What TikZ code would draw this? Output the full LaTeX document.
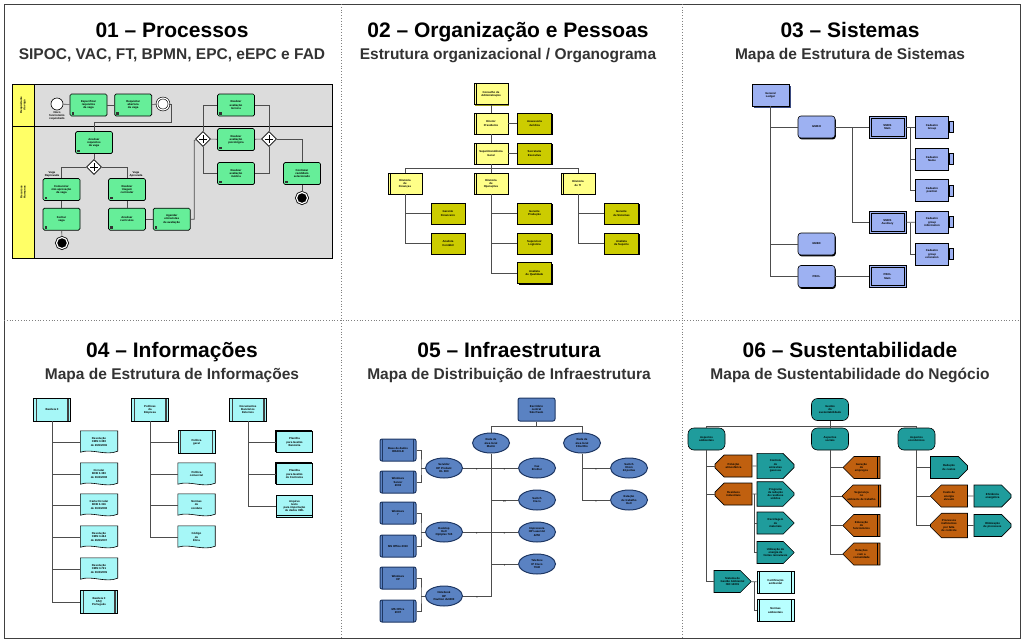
\documentclass[tikz,border=0pt]{standalone}
\usepackage{fontspec}
\setmainfont{Liberation Sans}
\usepackage{xcolor}
\definecolor{cFrame}{HTML}{404040}
\definecolor{cDots}{HTML}{808080}
\definecolor{cSub}{HTML}{333333}
\definecolor{cLine}{HTML}{4D4D4D}
\definecolor{cPool}{HTML}{DCDCDC}
\definecolor{cLane}{HTML}{FFFF66}
\definecolor{cTask}{HTML}{66EE99}
\definecolor{cOrgU}{HTML}{FFFF88}
\definecolor{cOrgD}{HTML}{99991A}
\definecolor{cOrgP}{HTML}{CCCC00}
\definecolor{cSys}{HTML}{9DB1F2}
\definecolor{cSysD}{HTML}{3A4A80}
\definecolor{cInfo}{HTML}{A6F7F7}
\definecolor{cInfra}{HTML}{5A82C2}
\definecolor{cNavy}{HTML}{1F3864}
\definecolor{cTeal}{HTML}{1F9C9C}
\definecolor{cRust}{HTML}{C0600F}
\definecolor{cIce}{HTML}{B8FFFF}
\usepackage{tikz}
\usetikzlibrary{positioning,shapes.geometric,shapes.misc,shadows,backgrounds,calc}
\tikzset{
  panel-title/.style={font=\fontsize{21}{24}\selectfont\bfseries,anchor=base},
  panel-sub/.style={font=\fontsize{15.5}{18}\selectfont\bfseries,text=cSub,anchor=base},
  tiny-text/.style={font=\fontsize{2.8}{3.2}\selectfont\bfseries,align=center,inner sep=0.5pt},
  link/.style={draw=cLine,line width=0.6},
  mult/.style={font=\fontsize{2.5}{3}\selectfont,inner sep=0.6pt},
  % 01 BPMN
  node-task/.style={tiny-text,draw=black,line width=0.7,rounded corners=1.5,fill=cTask,
    minimum width=37,minimum height=22,
    path picture={\fill[black!80,sharp corners] ([shift={(1.5pt,1.5pt)}]path picture bounding box.south west) rectangle ++(2.5pt,2.5pt);}},
  node-gate/.style={diamond,draw=black,fill=white,line width=0.6,minimum size=15,inner sep=0,
    path picture={\draw[line width=0.8] (path picture bounding box.center) +(-4pt,0pt) -- +(4pt,0pt) +(0pt,-4pt) -- +(0pt,4pt);}},
  node-start/.style={circle,draw=black,fill=white,line width=0.6,minimum size=12,inner sep=0},
  node-inter/.style={node-start,double,double distance=1.2},
  node-end/.style={circle,draw=black,fill=black,line width=0.8,minimum size=11,inner sep=0,double=white,double distance=1.2},
  % 02 organograma
  node-unit/.style={tiny-text,draw=black,fill=cOrgU,line width=0.5,minimum width=34,minimum height=21,
    drop shadow={shadow xshift=1pt,shadow yshift=-1.2pt,fill=cOrgD,opacity=1},
    path picture={\draw[line width=0.5] ([xshift=2.5pt]path picture bounding box.south west) -- ([xshift=2.5pt]path picture bounding box.north west);}},
  node-post/.style={tiny-text,draw=black,fill=cOrgP,line width=0.7,minimum width=34,minimum height=21,
    drop shadow={shadow xshift=1.2pt,shadow yshift=-1.2pt,fill=black,opacity=1}},
  % 03 sistemas
  node-sys/.style={tiny-text,draw=black,fill=cSys,line width=0.6,minimum width=37,minimum height=22},
  node-sysroot/.style={node-sys,drop shadow={shadow xshift=1.5pt,shadow yshift=-1.5pt,fill=cSysD,opacity=1}},
  node-mod/.style={node-sys,rounded corners=3,drop shadow={shadow xshift=0.8pt,shadow yshift=-1.4pt,fill=black,opacity=1}},
  node-app/.style={node-sys,line width=0.8,
    path picture={\draw[line width=0.5] ([shift={(1.8pt,1.8pt)}]path picture bounding box.south west) rectangle ([shift={(-1.8pt,-1.8pt)}]path picture bounding box.north east);}},
  node-fn/.style={node-sys,minimum width=33},
  % 04 informações
  node-info/.style={tiny-text,draw=black,fill=cInfo,line width=0.6,minimum width=37,minimum height=23,
    path picture={\fill[black!75] ([xshift=2pt]path picture bounding box.south west) rectangle ([xshift=3.2pt]path picture bounding box.north west);
      \fill[black!75] ([xshift=-2pt]path picture bounding box.south east) rectangle ([xshift=-3.2pt]path picture bounding box.north east);}},
  node-doc/.style={tiny-text,minimum width=37,minimum height=22},
  node-file/.style={tiny-text,draw=black,fill=cInfo,line width=0.6,minimum width=36,minimum height=21,
    copy shadow={shadow xshift=-1.5pt,shadow yshift=1.5pt,draw=black,fill=cInfo}},
  node-xml/.style={tiny-text,draw=black,fill=cInfo,line width=0.6,minimum width=36,minimum height=22,
    path picture={\draw[line width=0.5] ([yshift=2pt]path picture bounding box.south west) -- ([yshift=2pt]path picture bounding box.south east);}},
  % 05 infraestrutura
  node-loc/.style={tiny-text,draw=cNavy,fill=cInfra,line width=1,rounded corners=2,minimum width=37,minimum height=23},
  node-net/.style={tiny-text,ellipse,draw=cNavy,fill=cInfra,line width=1,minimum width=37,minimum height=20,inner sep=0},
  node-hw/.style={node-loc,minimum width=36,minimum height=22,
    path picture={\draw[cNavy,line width=0.6] ([xshift=2.5pt]path picture bounding box.south west) -- ([xshift=2.5pt]path picture bounding box.north west)
      ([xshift=-2.5pt]path picture bounding box.south east) -- ([xshift=-2.5pt]path picture bounding box.north east);}},
  % 06 sustentabilidade
  node-goal/.style={tiny-text,draw=black,fill=cTeal,line width=0.6,rounded corners=6,minimum width=37,minimum height=22},
  node-risk/.style={tiny-text,chamfered rectangle,chamfered rectangle corners={north west,south west},
    chamfered rectangle xsep=5pt,chamfered rectangle ysep=6pt,draw=black,fill=cRust,line width=0.6,minimum width=37,minimum height=22},
  node-risk2/.style={node-risk,
    path picture={\draw[line width=0.6] ([xshift=-2.5pt]path picture bounding box.north east) -- ([xshift=-2.5pt]path picture bounding box.south east);}},
  node-act/.style={tiny-text,chamfered rectangle,chamfered rectangle corners={north east,south east},
    chamfered rectangle xsep=5pt,chamfered rectangle ysep=6pt,draw=black,fill=cTeal,line width=0.6,minimum width=37,minimum height=22},
  node-norm/.style={tiny-text,draw=black,fill=cIce,line width=0.6,minimum width=37,minimum height=22,
    path picture={\draw[line width=0.6] ([xshift=2.5pt]path picture bounding box.south west) -- ([xshift=2.5pt]path picture bounding box.north west)
      ([xshift=-2.5pt]path picture bounding box.south east) -- ([xshift=-2.5pt]path picture bounding box.north east);}},
}

\begin{document}
\begin{tikzpicture}[x=1pt,y=-1pt]
  \useasboundingbox (0,0) rectangle (1024,643);
  \begin{scope}[on background layer]
    \fill[white] (0,0) rectangle (1024,643);
  \end{scope}
  \draw[cFrame,line width=1] (4,4) rectangle (1020,638);
  \draw[cDots,dotted,line width=0.8] (341,4) -- (341,638) (682,4) -- (682,638) (4,320) -- (1020,320);

  % títulos
  \node[panel-title] (tit1) at (172,37) {01 – Processos};
  \node[panel-sub]   (sub1) at (172,59) {SIPOC, VAC, FT, BPMN, EPC, eEPC e FAD};
  \node[panel-title] (tit2) at (508,37) {02 – Organização e Pessoas};
  \node[panel-sub]   (sub2) at (508,59) {Estrutura organizacional / Organograma};
  \node[panel-title] (tit3) at (850,37) {03 – Sistemas};
  \node[panel-sub]   (sub3) at (850,59) {Mapa de Estrutura de Sistemas};
  \node[panel-title] (tit4) at (172,357) {04 – Informações};
  \node[panel-sub]   (sub4) at (172,379) {Mapa de Estrutura de Informações};
  \node[panel-title] (tit5) at (509,357) {05 – Infraestrutura};
  \node[panel-sub]   (sub5) at (509,379) {Mapa de Distribuição de Infraestrutura};
  \node[panel-title] (tit6) at (850,357) {06 – Sustentabilidade};
  \node[panel-sub]   (sub6) at (850,379) {Mapa de Sustentabilidade do Negócio};

  % 01 -- BPMN
  \draw[fill=cPool,line width=1] (12,84) rectangle (332,258);
  \draw[fill=cLane,line width=0.8] (12,84) rectangle (34,126);
  \draw[fill=cLane,line width=0.8] (12,126) rectangle (34,258);
  \draw[line width=1] (34,126) -- (332,126);
  \node[tiny-text,rotate=90] (ln1) at (23,105) {Requisitante\\da vaga};
  \node[tiny-text,rotate=90] (ln2) at (23,192) {Recursos\\Humanos};

  \node[node-start] (ev0) at (57,104) {};
  \node[tiny-text,below=0.5pt of ev0] (ev0l) {Novo\\funcionário\\requisitado};
  \node[node-task] (t1) at (88.5,105) {Especificar\\requisitos\\da vaga};
  \node[node-task,right=7pt of t1] (t2) {Requisitar\\abertura\\da vaga};
  \node[node-inter] (ev1) at (163,104) {};
  \node[node-task] (t3) at (94,142.5) {Analisar\\requisitos\\da vaga};
  \node[node-gate] (g1) at (94,167) {};
  \node[node-task] (t4) at (61.5,189.5) {Comunicar\\não aprovação\\da vaga};
  \node[node-task,below=7pt of t4] (t5) {Fechar\\vaga};
  \node[node-end] (ev2) at (62,243) {};
  \node[node-task] (t6) at (127,189.5) {Realizar\\triagem\\curricular};
  \node[node-task,below=7pt of t6] (t7) {Analisar\\currículos};
  \node[node-task,right=7pt of t7] (t8) {Agendar\\entrevistas\\de avaliação};
  \node[node-gate] (g2) at (203,139) {};
  \node[node-task] (p1) at (236,105) {Realizar\\avaliação\\técnica};
  \node[node-task] (p2) at (236,139.5) {Realizar\\avaliação\\psicológica};
  \node[node-task] (p3) at (236,173.5) {Realizar\\avaliação\\médica};
  \node[node-gate] (g3) at (269,139) {};
  \node[node-task] (t9) at (302,173.5) {Contratar\\candidato\\selecionado};
  \node[node-end] (ev3) at (302,198) {};
  \node[tiny-text] (lb1) at (52,174) {Vaga\\Reprovada};
  \node[tiny-text] (lb2) at (136,174) {Vaga\\Aprovada};

  \draw[link] (ev0) -- (t1);
  \draw[link] (t1) -- (t2);
  \draw[link] (t2) -- (ev1);
  \draw[link] (ev1) -- ++(8,0) |- (94,122) -- (t3);
  \draw[link] (t3) -- (g1);
  \draw[link] (g1) -| (t4);
  \draw[link] (g1) -| (t6);
  \draw[link] (t4) -- (t5);
  \draw[link] (t5) -- (ev2);
  \draw[link] (t6) -- (t7);
  \draw[link] (t7) -- (t8);
  \draw[link] (t8) -| ++(22.5,-79) -- (g2);
  \draw[link] (g2) |- (p1);
  \draw[link] (g2) -- (p2);
  \draw[link] (g2) |- (p3);
  \draw[link] (p1) -| (g3);
  \draw[link] (p2) -- (g3);
  \draw[link] (p3) -| (g3);
  \draw[link] (g3) -| (t9);
  \draw[link] (t9) -- (ev3);

  % 02 -- organograma
  \node[node-unit] (o1) at (491,94) {Conselho de\\Administração};
  \node[node-unit] (o2) at (491,123.5) {Diretor\\Presidente};
  \node[node-post] (q1) at (534.5,123.5) {Assessoria\\Jurídica};
  \node[node-unit] (o3) at (491,153.5) {Superintendência\\Geral};
  \node[node-post] (q2) at (534.5,153.5) {Secretaria\\Executiva};
  \node[node-unit] (o4) at (405,183.5) {Diretoria\\de\\Finanças};
  \node[node-unit] (o5) at (491,183.5) {Diretoria\\de\\Operações};
  \node[node-unit] (o6) at (578,183.5) {Diretoria\\de TI};
  \node[node-post] (q3) at (448,213.5) {Gerente\\Financeiro};
  \node[node-post] (q4) at (448,243.5) {Analista\\Contábil};
  \node[node-post] (q5) at (534.5,213.5) {Gerente\\Produção};
  \node[node-post] (q6) at (534.5,243.5) {Supervisor\\Logística};
  \node[node-post] (q7) at (534.5,273) {Analista\\de Qualidade};
  \node[node-post] (q8) at (621.5,213.5) {Gerente\\de Sistemas};
  \node[node-post] (q9) at (621.5,243.5) {Analista\\de Suporte};
  \coordinate (bus2) at (491,168);
  \draw[link] (o1) -- (o2);
  \draw[link] (o2) -- (o3);
  \draw[link] (o2) -- (q1);
  \draw[link] (o3) -- (q2);
  \draw[link] (o3) -- (bus2) -| (o4);
  \draw[link] (bus2) -| (o6);
  \draw[link] (bus2) -- (o5);
  \foreach \n in {q3,q4} \draw[link] (o4) |- (\n);
  \foreach \n in {q5,q6,q7} \draw[link] (o5) |- (\n);
  \foreach \n in {q8,q9} \draw[link] (o6) |- (\n);

  % 03 -- sistemas
  \node[node-sysroot] (r3) at (770.5,95) {General\\Ledger};
  \node[node-mod] (m1) at (816.5,127) {GMBH};
  \node[node-mod] (m2) at (816.5,244) {GMBX};
  \node[node-mod] (m3) at (816.5,276.5) {PBCL};
  \node[node-app] (a1) at (887.5,127) {SMDS\\Main};
  \node[node-app] (a2) at (887.5,222.5) {SMDS\\Auxiliary};
  \node[node-app] (a3) at (887.5,276.5) {PBCL\\Main};
  \node[node-fn] (f1) at (932,127) {Cadastro\\Group};
  \node[node-fn] (f2) at (932,159) {Cadastro\\Name};
  \node[node-fn] (f3) at (932,190.5) {Cadastro\\position};
  \node[node-fn] (f4) at (932,222) {Cadastro\\group\\information};
  \node[node-fn] (f5) at (932,254) {Cadastro\\group\\extension};
  \foreach \n in {f1,f2,f3,f4,f5}
    \draw[fill=cSys,line width=0.6] ([yshift=-6pt]\n.north east) rectangle ([xshift=4pt,yshift=6pt]\n.south east);
  \coordinate (j3a) at (852,127);
  \coordinate (j3b) at (910,127);
  \coordinate (j3c) at (910,222.5);
  \foreach \n in {m1,m2,m3} \draw[link] (r3) |- (\n);
  \draw[link] (m1) -- (a1);
  \draw[link] (j3a) |- (a2);
  \draw[link] (m3) -- (a3);
  \draw[link] (a1) -- (f1);
  \draw[link] (j3b) |- (f2);
  \draw[link] (j3b) |- (f3);
  \draw[link] (a2) -- (f4);
  \draw[link] (j3c) |- (f5);

  % 04 -- informações
  \node[node-info] (i1) at (52,409.5) {Basileia II};
  \node[node-info] (i2) at (150,409.5) {Políticas\\da\\Empresa};
  \node[node-info] (i3) at (248,409.5) {Documentos\\Bancários\\Externos};
  \node[node-doc] (d1) at (99,442) {Resolução\\CMN 3.380\\de 29/6/2006};
  \node[node-doc] (d2) at (99,474) {Circular\\BCB 3.383\\de 30/4/2008};
  \node[node-doc] (d3) at (99,505) {Carta Circular\\BCB 3.316\\de 30/4/2008};
  \node[node-doc] (d4) at (99,537) {Resolução\\CMN 3.464\\de 26/6/2007};
  \node[node-doc] (d5) at (99,569) {Resolução\\CMN 3.721\\de 30/4/2009};
  \node[node-info] (d6) at (99,602) {Basileia II\\FAQ\\Português};
  \node[node-info] (e1) at (196.5,442) {Política\\geral};
  \node[node-doc] (e2) at (196.5,474) {Política\\comercial};
  \node[node-doc] (e3) at (196.5,505) {Normas\\de\\conduta};
  \node[node-doc] (e4) at (196.5,537) {Código\\de\\Ética};
  \node[node-file] (x1) at (294.5,442) {Planilha\\para Gestão\\Bancária};
  \node[node-file] (x2) at (294.5,474) {Planilha\\para Gestão\\de Contratos};
  \node[node-xml] (x3) at (294.5,506) {Arquivo\\texto\\para importação\\de dados XML};
  \begin{scope}[on background layer]
    \foreach \n in {d1,d2,d3,d4,d5,e2,e3,e4}
      \draw[fill=cInfo,line width=0.6] (\n.north west) -- (\n.north east) -- ([yshift=2pt]\n.south east)
        .. controls ([xshift=-12pt,yshift=-3pt]\n.south east) and ([xshift=12pt,yshift=5pt]\n.south west) .. ([yshift=1pt]\n.south west) -- cycle;
  \end{scope}
  \foreach \n in {d1,d2,d3,d4,d5,d6} \draw[link] (i1) |- (\n);
  \foreach \n in {e1,e2,e3,e4} \draw[link] (i2) |- (\n);
  \foreach \n in {x1,x2,x3} \draw[link] (i3) |- (\n);

  % 05 -- infraestrutura
  \node[node-loc] (w0) at (536.5,409.5) {Escritório\\central\\São Paulo};
  \node[node-net] (n1) at (491,443) {Rede de\\área local\\Matriz};
  \node[node-net] (n2) at (582,443) {Rede de\\área local\\Filial Rio};
  \node[node-net] (n3) at (444,468) {Servidor\\HP Proliant\\DL 380};
  \node[node-net] (n4) at (444,532) {Desktop\\Dell\\Optiplex 745};
  \node[node-net] (n5) at (444,596) {Notebook\\HP\\Pavilion dv6000};
  \node[node-net] (n6) at (537,468) {Fax\\Brother};
  \node[node-net] (n7) at (537,500) {Switch\\Cisco};
  \node[node-net] (n8) at (537,532) {Impressora\\HP LaserJet\\4250};
  \node[node-net] (n9) at (537,564) {Telefone\\IP Cisco\\7940};
  \node[node-net] (n10) at (629,468) {Switch\\3Com\\24 portas};
  \node[node-net] (n11) at (629,500) {Estação\\de trabalho\\Dell};
  \node[node-hw] (w1) at (398,450) {Base de dados\\ORACLE};
  \node[node-hw] (w2) at (398,482) {Windows\\Server\\2003};
  \node[node-hw] (w3) at (398,513) {Windows\\7};
  \node[node-hw] (w4) at (398,546) {MS Office 2010};
  \node[node-hw] (w5) at (398,578) {Windows\\XP};
  \node[node-hw] (w6) at (398,611) {MS Office\\2007};
  \coordinate (bus5) at (536.5,426);
  \coordinate (br1) at (421,468);
  \coordinate (br2) at (421,532);
  \coordinate (br3) at (421,596);
  \draw[link] (w0) -- (bus5);
  \draw[link] (bus5) -| (n1);
  \draw[link] (bus5) -| (n2);
  \draw[link] (n3) -- (n6) node[mult,pos=0.25,below]{1} node[mult,pos=0.75,below]{1};
  \draw[link] (n4) -- (n8) node[mult,pos=0.25,below]{1} node[mult,pos=0.75,below]{1};
  \draw[link] (n1) |- (n5) node[mult,pos=0.75,below]{1};
  \draw[link] (n1) |- (n7) node[mult,pos=0.75,below]{20};
  \draw[link] (n1) |- (n9) node[mult,pos=0.75,below]{1};
  \draw[link] (n2) |- (n10) node[mult,pos=0.75,below]{1};
  \draw[link] (n2) |- (n11) node[mult,pos=0.75,below]{1};
  \draw[link] (w1) -| (br1) |- (w2);
  \draw[link] (w3) -| (br2) |- (w4);
  \draw[link] (w5) -| (br3) |- (w6);
  \draw[link] (br1) -- (n3);
  \draw[link] (br2) -- (n4);
  \draw[link] (br3) -- (n5);

  % 06 -- sustentabilidade
  \node[node-goal] (u0) at (830,409.5) {Gestão\\da\\sustentabilidade};
  \node[node-goal] (u1) at (706.5,439) {Aspectos\\ambientais};
  \node[node-goal] (u2) at (830,439) {Aspectos\\sociais};
  \node[node-goal] (u3) at (916.5,439) {Aspectos\\econômicos};
  \node[node-risk] (v1) at (733.5,466) {Poluição\\atmosférica};
  \node[node-act] (y1) at (775.5,466) {Controle\\de\\emissões\\gasosas};
  \node[node-risk] (v2) at (733.5,494) {Resíduos\\industriais};
  \node[node-act] (y2) at (775.5,494) {Programa\\de redução\\de resíduos\\sólidos};
  \node[node-act] (y3) at (775.5,523) {Reciclagem\\de\\materiais};
  \node[node-act] (y4) at (775.5,552.5) {Utilização de\\energia de\\fontes renováveis};
  \node[node-act] (y5) at (732.5,581.5) {Sistema de\\Gestão Ambiental\\ISO 14001};
  \node[node-norm] (z1) at (775.5,582) {Certificação\\ambiental};
  \node[node-norm] (z2) at (775.5,610.5) {Normas\\ambientais};
  \node[node-risk2] (v3) at (861.5,467.5) {Geração\\de\\empregos};
  \node[node-risk2] (v4) at (861.5,496) {Segurança\\no\\ambiente de trabalho};
  \node[node-risk2] (v5) at (861.5,525.5) {Educação\\de\\funcionários};
  \node[node-risk2] (v6) at (861.5,554) {Relações\\com a\\comunidade};
  \node[node-act] (y6) at (949,467.5) {Redução\\de custos};
  \node[node-risk] (v7) at (949,496) {Custo de\\energia\\elevado};
  \node[node-risk] (v8) at (949,525.5) {Processos\\ineficientes\\por falta\\de controle};
  \node[node-act] (y7) at (992.5,496) {Eficiência\\energética};
  \node[node-act] (y8) at (992.5,525.5) {Otimização\\de processos};
  \coordinate (bus6) at (830,426);
  \coordinate (j6a) at (754,494);
  \coordinate (j6b) at (754,582);
  \draw[link] (u0) -- (bus6);
  \draw[link] (bus6) -| (u1);
  \draw[link] (bus6) -- (u2);
  \draw[link] (bus6) -| (u3);
  \foreach \n in {v1,v2,y5} \draw[link] (u1) |- (\n);
  \draw[link] (v1) -- (y1);
  \draw[link] (v2) -- (y2);
  \draw[link] (j6a) |- (y3);
  \draw[link] (j6a) |- (y4);
  \draw[link] (y5) -- (z1);
  \draw[link] (j6b) |- (z2);
  \foreach \n in {v3,v4,v5,v6} \draw[link] (u2) |- (\n);
  \foreach \n in {y6,v7,v8} \draw[link] (u3) |- (\n);
  \draw[link] (v7) -- (y7);
  \draw[link] (v8) -- (y8);
\end{tikzpicture}
\end{document}
